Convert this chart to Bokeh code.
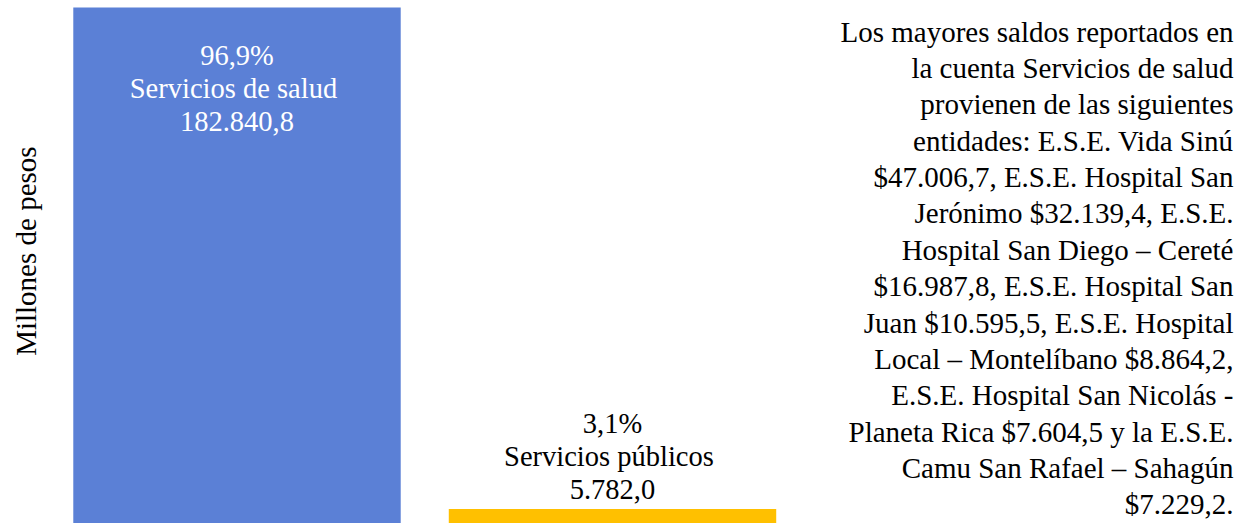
import math
from bokeh.plotting import figure
from bokeh.models import ColumnDataSource, Range1d, Label
from bokeh.core.properties import value
from bokeh.embed import file_html
from bokeh.resources import INLINE

# ---- data ----
categories = ["Servicios de salud", "Servicios públicos"]
bar_label_names = ["Servicios  de salud", "Servicios  públicos"]
values = [182840.8, 5782.0]
bar_colors = ["#5b80d6", "#ffc000"]
y_axis_title = "Millones  de pesos"
note_lines = [
    "Los mayores saldos reportados en",
    "la cuenta Servicios de salud",
    "provienen de las siguientes",
    "entidades: E.S.E. Vida Sinú",
    "$47.006,7, E.S.E. Hospital San",
    "Jerónimo $32.139,4, E.S.E.",
    "Hospital San Diego – Cereté",
    "$16.987,8, E.S.E. Hospital San",
    "Juan $10.595,5, E.S.E. Hospital",
    "Local – Montelíbano $8.864,2,",
    "E.S.E. Hospital San Nicolás -",
    "Planeta Rica $7.604,5 y la E.S.E.",
    "Camu San Rafael – Sahagún",
    "$7.229,2.",
]


def fmt_es(v, d=1):
    s = f"{v:,.{d}f}"
    return s.replace(",", "X").replace(".", ",").replace("X", ".")


total = sum(values)
pcts = [fmt_es(100 * v / total) + "%" for v in values]
labels = [f"{p}\n{n}\n{fmt_es(v)}" for p, n, v in zip(pcts, bar_label_names, values)]
xs = list(range(len(categories)))

# ---- layout ----
W, H = 1245, 523
SLOT = 375.5          # px per category slot
FIRST_CENTER = 236.5  # px of first bar centre
TOP_GAP = 7           # px above the tallest bar
BELOW = 2             # px of the bars hidden below the picture
FONT_NAME = "Liberation Serif"

x_start = -FIRST_CENTER / SLOT
x_end = x_start + W / SLOT
ymax = max(values)
ppu = (H - TOP_GAP + BELOW) / ymax
y_start = BELOW / ppu
y_end = y_start + H / ppu

p = figure(
    width=W, height=H,
    x_range=Range1d(x_start, x_end),
    y_range=Range1d(y_start, y_end),
    x_axis_location=None, y_axis_location=None,
    toolbar_location=None, output_backend="svg",
    min_border=0,
)
p.outline_line_color = None
p.xgrid.visible = False
p.ygrid.visible = False
p.background_fill_color = "white"
p.border_fill_color = "white"

src = ColumnDataSource(dict(
    x=xs, top=values, color=bar_colors, label=labels,
    text_color=["white", "black"],
    yoff=[81, -53],
))
p.vbar(x="x", top="top", bottom=0, width=0.872, color="color", line_color=None, source=src)

p.text(x="x", y="top", text="label", source=src, y_offset="yoff",
       text_align="center", text_baseline="middle",
       text_font=value(FONT_NAME), text_font_size="28.5px", text_color="text_color",
       text_line_height=1.062)

# y axis title
p.add_layout(Label(x=25, y=276, x_units="screen", y_units="screen",
                   text=y_axis_title, angle=math.pi / 2,
                   text_align="center", text_baseline="middle",
                   text_font=FONT_NAME, text_font_size="29px", text_color="black"))

# side note
p.add_layout(Label(x=1233, y=255.5, x_units="screen", y_units="screen",
                   text="\n".join(note_lines),
                   text_align="right", text_baseline="middle",
                   text_font=FONT_NAME, text_font_size="29px", text_color="black",
                   text_line_height=1.137))

open("out.html", "w").write(file_html(p, INLINE))
